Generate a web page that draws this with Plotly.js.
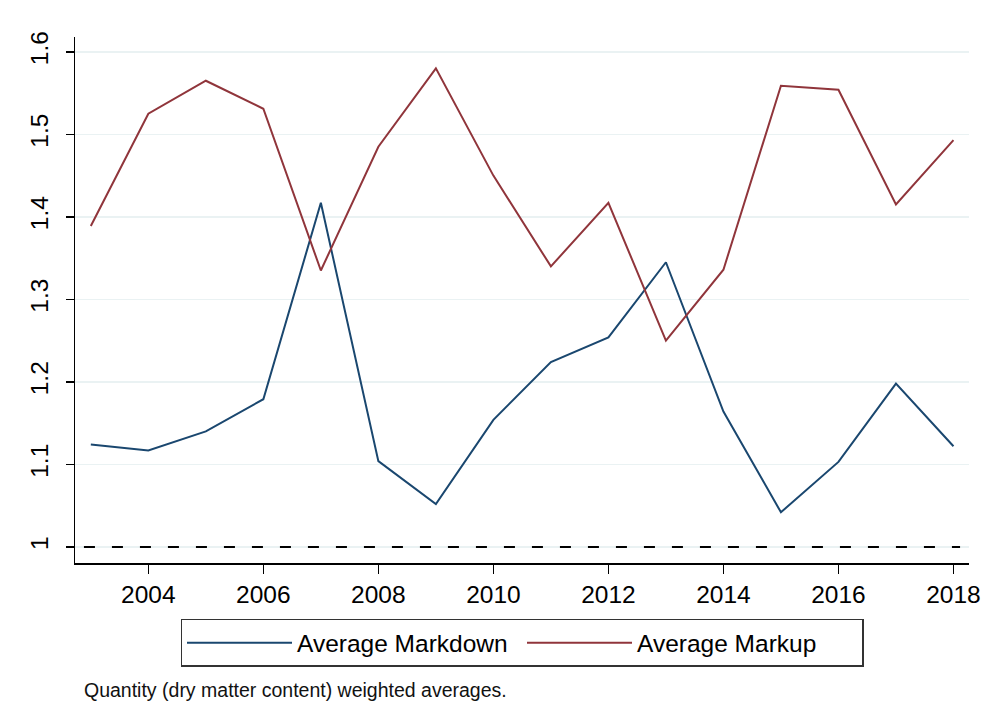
<!DOCTYPE html>
<html>
<head>
<meta charset="utf-8">
<script src="https://cdn.plot.ly/plotly-3.0.1.min.js"></script>
<style>html,body{margin:0;padding:0;background:#fff;}#chart{width:983px;height:720px;}</style>
</head>
<body>
<div id="chart"></div>
<script>
const years = [2003,2004,2005,2006,2007,2008,2009,2010,2011,2012,2013,2014,2015,2016,2017,2018];
const markdown = [1.124,1.117,1.140,1.179,1.417,1.104,1.052,1.154,1.224,1.254,1.345,1.164,1.042,1.103,1.198,1.122];
const markup = [1.389,1.525,1.565,1.531,1.335,1.485,1.580,1.450,1.340,1.417,1.250,1.336,1.559,1.554,1.415,1.493];
const xTicks = [2004,2006,2008,2010,2012,2014,2016,2018];
const yTicks = [1,1.1,1.2,1.3,1.4,1.5,1.6];
const yTickText = ['1','1.1','1.2','1.3','1.4','1.5','1.6'];
const seriesNames = ['Average Markdown','Average Markup'];
const note = 'Quantity (dry matter content) weighted averages.';
const refLine = 1;

const font = 'Liberation Sans, Arial, sans-serif';
const traces = [
  {x: years, y: markdown, name: seriesNames[0], type: 'scatter', mode: 'lines',
   line: {color: '#1a476f', width: 2}},
  {x: years, y: markup, name: seriesNames[1], type: 'scatter', mode: 'lines',
   line: {color: '#90353b', width: 2}}
];
const layout = {
  width: 983, height: 720,
  paper_bgcolor: '#fff', plot_bgcolor: '#fff',
  margin: {l: 75, r: 14, t: 37, b: 157},
  font: {family: font, color: '#000', size: 24},
  showlegend: true,
  legend: {orientation: 'h', x: 0.5, xanchor: 'center', y: -0.106, yanchor: 'top',
           bordercolor: '#333', borderwidth: 1.5, bgcolor: '#fff',
           font: {size: 24.5, family: font, color: '#000'},
           itemwidth: 105, entrywidth: 220, traceorder: 'normal'},
  xaxis: {range: [2002.725, 2018.27], tickvals: xTicks, ticktext: xTicks.map(String),
          showgrid: false, zeroline: false, showline: true, linecolor: '#000', linewidth: 1.5,
          ticks: 'outside', ticklen: 9, tickwidth: 1.5, tickcolor: '#000',
          tickfont: {size: 24.5, family: font, color: '#000'}, fixedrange: true},
  yaxis: {range: [0.9805, 1.618], tickvals: yTicks, ticktext: yTickText, tickangle: -90,
          showgrid: true, gridcolor: '#eaf2f3', gridwidth: 1.5, zeroline: false,
          showline: true, linecolor: '#000', linewidth: 1.5,
          ticks: 'outside', ticklen: 8, tickwidth: 1.5, tickcolor: '#000',
          ticklabelstandoff: 8,
          tickfont: {size: 24.5, family: font, color: '#000'}, fixedrange: true},
  shapes: [
    {type: 'line', xref: 'paper', x0: 0.01, x1: 0.99, yref: 'y', y0: refLine, y1: refLine,
     line: {color: '#000', width: 2, dash: '11px,17px'}}
  ],
  annotations: [
    {text: note, xref: 'paper', yref: 'paper', x: 0.008, y: -0.241, xanchor: 'left', yanchor: 'middle',
     showarrow: false, font: {size: 19.5, family: font, color: '#111'}}
  ]
};
Plotly.newPlot('chart', traces, layout, {displayModeBar: false, staticPlot: true});
</script>
</body>
</html>
